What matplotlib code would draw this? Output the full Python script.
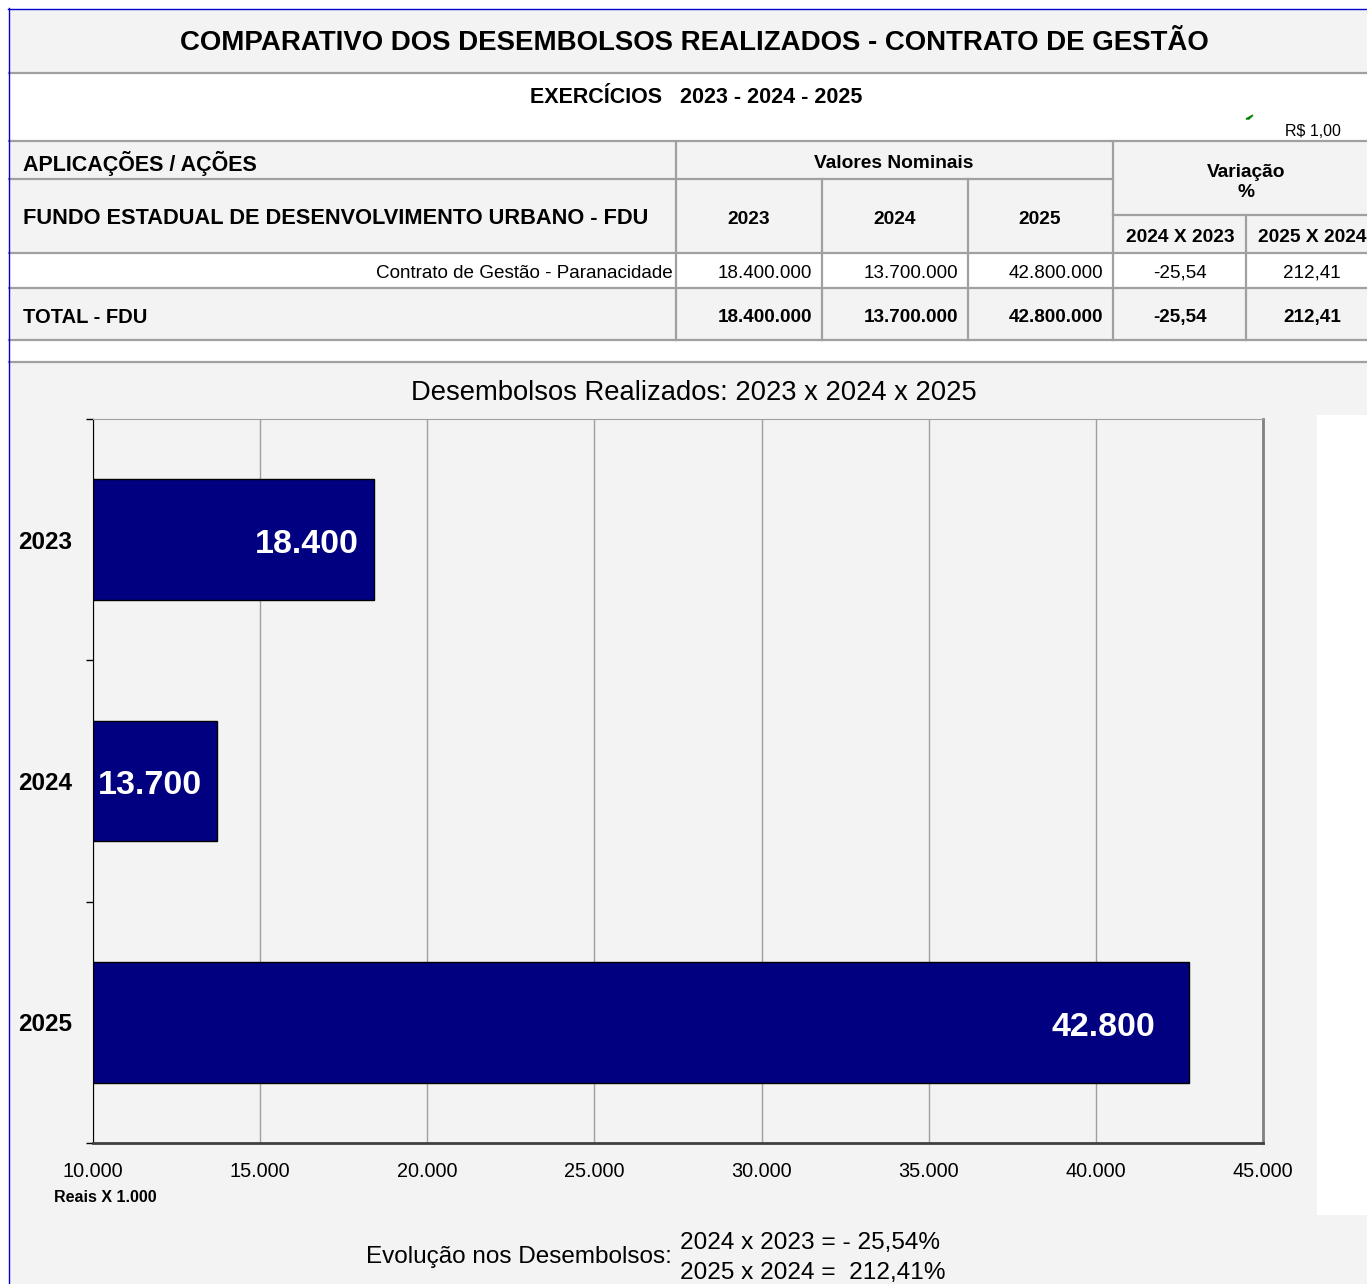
import numpy as np
import matplotlib
matplotlib.use("Agg")
import matplotlib.pyplot as plt
from matplotlib.lines import Line2D
from matplotlib.patches import Rectangle, Polygon

plt.rcParams['font.family'] = ['Liberation Sans', 'DejaVu Sans']

# dados
anos = ['2023', '2024', '2025']
valores = [18400000, 13700000, 42800000]
variacoes = [-25.54, 212.41]
var_labels = ['2024 X 2023', '2025 X 2024']
acao = 'Contrato de Gestão - Paranacidade'
x_ticks = [10000, 15000, 20000, 25000, 30000, 35000, 40000, 45000]

W, H = 1367, 1284
CINZA = '#f3f3f3'
LINHA = '#a0a0a0'
AZUL = '#0000cc'


def br(v, dec=0):
    s = f"{v:,.{dec}f}"
    return s.replace(',', '#').replace('.', ',').replace('#', '.')


fig = plt.figure(figsize=(W / 100, H / 100), dpi=100, facecolor='white')


def rect(x0, y0, x1, y1, color):
    fig.add_artist(Rectangle((x0 / W, 1 - y1 / H), (x1 - x0) / W, (y1 - y0) / H,
                             transform=fig.transFigure, facecolor=color, lw=0, zorder=0))


def hline(y, x0, x1, color=LINHA, lw=1.6):
    fig.add_artist(Line2D([x0 / W, x1 / W], [1 - y / H, 1 - y / H], color=color, lw=lw,
                          transform=fig.transFigure, zorder=1))


def vline(x, y0, y1, color=LINHA, lw=1.6):
    fig.add_artist(Line2D([x / W, x / W], [1 - y0 / H, 1 - y1 / H], color=color, lw=lw,
                          transform=fig.transFigure, zorder=1))


def txt(x, y, s, **kw):
    kw.setdefault('va', 'center')
    fig.text(x / W, 1 - (y + 2.5) / H, s, **kw)


# fundos
rect(9, 9, 1367, 73, CINZA)
rect(9, 142, 1367, 253, CINZA)
rect(9, 288, 1367, 340, CINZA)
rect(9, 363, 1367, 1284, CINZA)
rect(1317, 415, 1367, 1215, 'white')

# linhas da tabela
for y, x0, x1 in [(73, 9, 1367), (141, 9, 1367), (179, 9, 1113), (215, 1113, 1367),
                  (253, 9, 1367), (288, 9, 1367), (340, 9, 1367), (362, 9, 1367)]:
    hline(y, x0, x1)
for x, y0, y1 in [(676, 142, 340), (1113, 142, 340), (822, 179, 340), (968, 179, 340),
                  (1246, 215, 340)]:
    vline(x, y0, y1)
hline(8.5, 8, 1367, color=AZUL, lw=1)
vline(8.5, 8, 1284, color=AZUL, lw=1)

# textos da tabela
txt(694, 41, 'COMPARATIVO DOS DESEMBOLSOS REALIZADOS - CONTRATO DE GESTÃO',
    ha='center', fontsize=19.9, fontweight='bold')
txt(696, 95, 'EXERCÍCIOS   ' + ' - '.join(anos), ha='center', fontsize=15.5, fontweight='bold')
txt(1313, 129, 'R$ 1,00', ha='center', fontsize=11.5)
fig.add_artist(Polygon([(1246 / W, 1 - 119 / H), (1253 / W, 1 - 115 / H), (1249 / W, 1 - 119 / H)],
                       closed=True, color='green', transform=fig.transFigure))
txt(23, 161, 'APLICAÇÕES / AÇÕES', ha='left', fontsize=15.5, fontweight='bold')
txt(23, 216, 'FUNDO ESTADUAL DE DESENVOLVIMENTO URBANO - FDU', ha='left', fontsize=15.7,
    fontweight='bold')
txt(894, 161, 'Valores Nominais', ha='center', fontsize=13.8, fontweight='bold')
txt(1246, 180, 'Variação\n%', ha='center', fontsize=13.8, fontweight='bold', linespacing=1.25)

col_c = [749, 895, 1040]
col_r = [812, 958, 1103]
var_c = [1180, 1312]
for i, a in enumerate(anos):
    txt(col_c[i], 217, a, ha='center', fontsize=13.8, fontweight='bold')
for i, l in enumerate(var_labels):
    txt(var_c[i], 235, l, ha='center', fontsize=13.8, fontweight='bold')

txt(673, 271, acao, ha='right', fontsize=13.6)
txt(23, 315, 'TOTAL - FDU', ha='left', fontsize=14.5, fontweight='bold')
for i, v in enumerate(valores):
    txt(col_r[i], 271, br(v), ha='right', fontsize=13.6)
    txt(col_r[i], 315, br(v), ha='right', fontsize=13.6, fontweight='bold')
for i, v in enumerate(variacoes):
    txt(var_c[i], 271, br(v, 2), ha='center', fontsize=13.6)
    txt(var_c[i], 315, br(v, 2), ha='center', fontsize=13.6, fontweight='bold')

# grafico
txt(694, 390, 'Desembolsos Realizados: ' + ' x '.join(anos), ha='center', fontsize=19.7)

ax = fig.add_axes([93 / W, 1 - 1143 / H, (1263 - 93) / W, (1143 - 419) / H])
ax.set_facecolor(CINZA)
xmin, xmax = x_ticks[0], x_ticks[-1]
mil = np.array(valores) / 1000
y = np.arange(len(anos))
ax.barh(y, mil - xmin, left=xmin, height=0.5, color='#000080', edgecolor='black', lw=1, zorder=3)
ax.set_xlim(xmin, xmax)
ax.set_ylim(len(anos) - 0.5, -0.5)
ax.set_xticks(x_ticks)
ax.set_xticklabels([br(t) for t in x_ticks], fontsize=14.3)
ax.tick_params(axis='x', length=0, pad=14)
ax.grid(axis='x', color='#a0a0a0', lw=1, zorder=0)
ax.set_yticks(np.arange(len(anos) + 1) - 0.5)
ax.set_yticklabels([])
ax.tick_params(axis='y', which='major', length=5, width=1, direction='out')
ax.set_yticks(y, minor=True)
ax.set_yticklabels(anos, minor=True, fontsize=17.5, fontweight='bold')
ax.tick_params(axis='y', which='minor', length=0, pad=15)
ax.spines['left'].set_color('black')
ax.spines['bottom'].set_color('#404040')
ax.spines['bottom'].set_linewidth(2)
ax.spines['top'].set_color('#a0a0a0')
ax.spines['right'].set_color('#808080')
ax.spines['right'].set_linewidth(2)

pads = [15, 15, 34]
for i, v in enumerate(mil):
    ax.annotate(br(v), (v, i), xytext=(-pads[i] * 0.72, -3.5), textcoords='offset points',
                ha='right', va='center', color='white', fontsize=24.5, fontweight='bold', zorder=4)

txt(105, 1195, 'Reais X 1.000', ha='center', fontsize=11.5, fontweight='bold')
txt(672, 1255, 'Evolução nos Desembolsos:', ha='right', fontsize=17.5)
txt(680, 1240, f'{anos[1]} x {anos[0]} = - {br(abs(variacoes[0]), 2)}%', ha='left', fontsize=17.6)
txt(680, 1270, f'{anos[2]} x {anos[1]} =  {br(variacoes[1], 2)}%', ha='left', fontsize=17.6)

fig.savefig('out.png', dpi=100, facecolor='white')
